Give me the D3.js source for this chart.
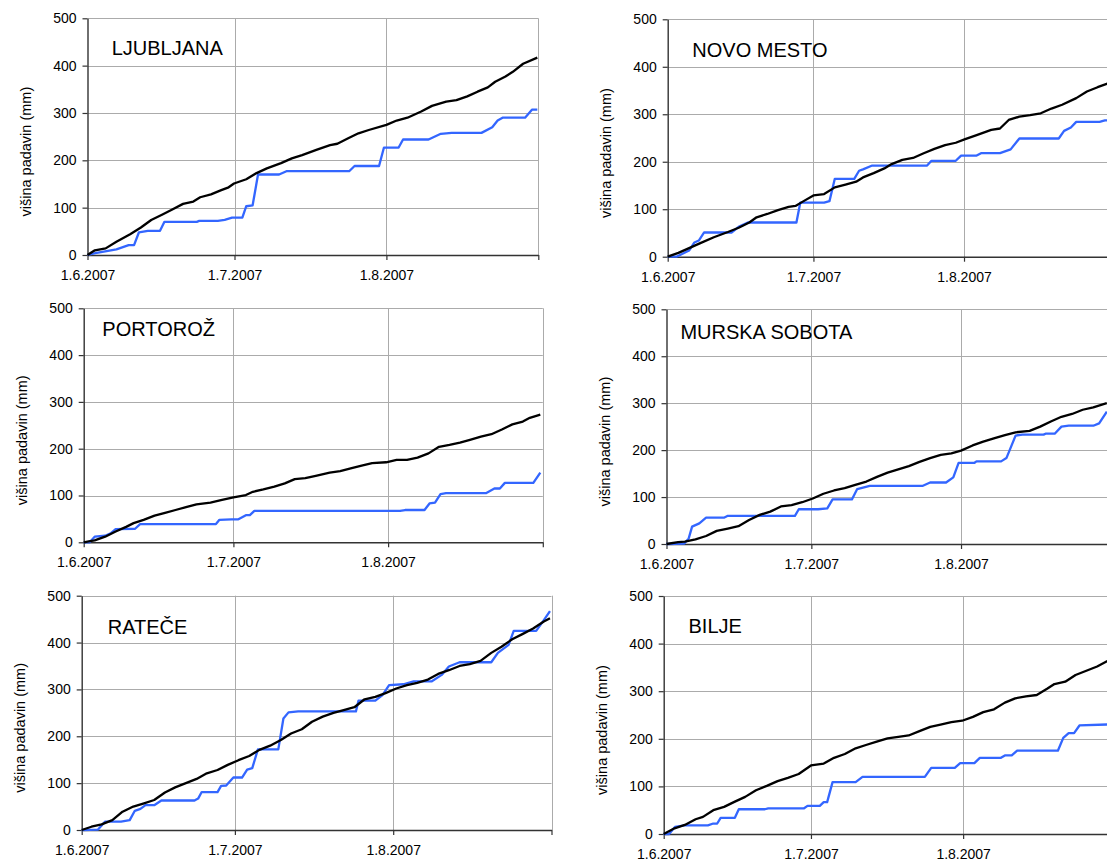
<!DOCTYPE html>
<html>
<head>
<meta charset="utf-8">
<script src="https://cdn.jsdelivr.net/npm/d3@7"></script>
<style>
  html, body { margin: 0; padding: 0; background: #fff; }
  svg { display: block; }
  text { font-family: "Liberation Sans", Arial, sans-serif; fill: #000; }
</style>
</head>
<body>
<svg id="chart" width="1107" height="861"></svg>
<script>
// ---- data: [days since 1.6.2007, cumulative precipitation mm] ----
const stations = ["LJUBLJANA", "NOVO MESTO", "PORTOROŽ", "MURSKA SOBOTA", "RATEČE", "BILJE"];
const yTicks = [0, 100, 200, 300, 400, 500];
const xTickDates = ["2007-06-01", "2007-07-01", "2007-08-01", "2007-09-01"];
const yTitle = "višina padavin (mm)";

const ljubljanaNormal = [[0,0],[1.5,10],[3.7,14],[5.9,28],[8.7,44],[10.9,58],[13,74],[15.2,85],[17.3,96],[19.5,108],[21.6,113],[23,122],[25.2,128],[27.3,137],[28.8,143],[29.9,151],[32.4,160],[34.5,173],[36.6,183],[39.5,194],[41.7,204],[43.8,211],[46.7,222],[49.5,232],[51,235],[53.1,246],[55.3,257],[57.4,264],[61,275],[63.1,284],[65.3,290],[68.1,303],[70.3,315],[73.2,324],[75.3,327],[77.5,335],[79.6,345],[81.7,354],[83.2,366],[85.3,377],[86.8,387],[88.9,404],[91.8,417]];
const ljubljana2007 = [[0,0],[1.6,4],[5.9,12],[8.4,21],[9.5,21],[10.5,48],[12.3,51],[14.8,51],[15.7,70],[22.3,70],[22.8,72],[26.6,72],[28,74],[29.5,79],[31.6,79],[32.4,103],[33.7,105],[34.8,170],[39.1,170],[40.6,177],[53.4,177],[54.5,188],[59.5,188],[60.5,227],[63.5,227],[64.4,244],[69.6,244],[72.1,256],[74.3,258],[80.4,258],[82.6,270],[83.7,284],[84.7,290],[89.3,290],[90.7,307],[91.8,307]];

const novoMestoNormal = [[0,0],[2.2,8],[4.4,18],[6.6,28],[9.5,41],[12.4,52],[14.6,61],[16.8,72],[18.3,83],[20.5,90],[22.7,98],[24.9,105],[26.3,107],[27.8,116],[30,129],[32.2,132],[34.4,146],[36.6,152],[38.8,158],[40.2,167],[42.4,176],[44.6,186],[46.1,195],[48.3,204],[50.5,208],[52.7,218],[54.9,227],[57.1,235],[59.3,240],[61.1,247],[63.6,256],[66.6,267],[68.4,270],[70.2,288],[72.4,295],[74.6,298],[76.8,302],[79,312],[81.2,320],[84.1,334],[86.3,348],[88.5,357],[90.6,365],[91,367]];
const novoMesto2007 = [[0,0],[1.8,0],[4.4,13],[5.5,30],[6.4,34],[7.5,51],[13.2,51],[14.6,63],[16.5,72],[26.5,72],[27.3,114],[32.2,114],[33.3,117],[34.4,164],[38.4,164],[39.4,181],[40.2,184],[42.1,192],[53.4,192],[54.3,202],[59.3,202],[60.4,213],[63.6,213],[64.5,218],[68.4,218],[70.6,226],[72.4,249],[80.5,249],[81.6,265],[83,272],[84.1,284],[88.9,284],[90,287],[91,287]];

const portorozNormal = [[0,0],[1,2],[2.2,4],[4.3,12],[6.4,23],[8.5,33],[10,41],[12,48],[14.2,57],[16.3,63],[18.4,69],[20.5,75],[22.6,81],[25.4,85],[27.5,90],[30,96],[32.5,101],[33.9,108],[36,113],[38.2,119],[40.3,126],[42.3,135],[44.4,137],[46.5,142],[49.3,149],[51.4,152],[53.5,158],[55.7,164],[57.8,169],[60.6,171],[62.7,176],[64.8,176],[66.9,181],[69.1,190],[71.2,204],[73.3,208],[75.4,213],[77.4,219],[79.6,226],[81.7,231],[83.8,241],[85.9,252],[88,258],[89.4,266],[91.5,273]];
const portoroz2007 = [[0,0],[1.2,0],[2.2,12],[4.3,14],[5.4,19],[6.4,28],[10.3,29],[11.3,39],[26.5,39],[27.2,48],[29.6,49],[31,49],[32.5,58],[33.3,58],[34.2,67],[63.4,67],[64.4,69],[68.3,69],[69.3,83],[70.4,85],[71.5,103],[72.6,105],[80.6,105],[82.3,115],[83.4,115],[84.4,127],[90.1,127],[91.5,149]];

const murskaSobotaNormal = [[0,0],[2.4,4],[3.8,5],[6,10],[8.2,17],[10.4,28],[12.7,33],[14.9,38],[17.1,51],[19.3,62],[21.5,69],[23.7,80],[25.9,83],[28.1,89],[30.3,97],[32.5,107],[34.7,114],[36.9,119],[39.1,126],[41.4,133],[43.6,143],[45.8,152],[48,159],[50.2,166],[52.4,175],[54.6,183],[56.8,190],[59,193],[61,199],[63.4,210],[65.6,218],[67.8,225],[70.1,232],[72.3,238],[75.2,241],[77.4,250],[79.6,261],[81.8,271],[84,277],[86.2,286],[88.4,291],[91.2,300]];
const murskaSobota2007 = [[0,0],[3.7,1],[4.6,12],[5.3,37],[6.8,44],[8.2,56],[11.9,56],[12.7,60],[26.6,60],[27.4,74],[31.4,74],[33.3,76],[34.4,95],[38.4,95],[39.5,117],[42.1,124],[53.1,124],[54.6,131],[57.9,131],[59.4,142],[60.5,173],[63.8,173],[64.2,176],[69.3,176],[70.4,183],[72.3,231],[73.7,233],[78.1,233],[78.5,235],[80.4,235],[81.8,250],[83.3,252],[88.4,252],[89.6,257],[91.2,282]];

const rateceNormal = [[0,0],[1.9,7],[3.9,12],[6,21],[8,39],[10.1,50],[12.2,57],[14.2,64],[16.3,80],[18.3,91],[20.4,100],[22.5,109],[24.5,121],[26.6,128],[28.6,139],[30.7,149],[32.8,158],[34.8,171],[36.9,180],[39,192],[41,206],[43.1,215],[45.1,231],[47.2,242],[49.3,250],[51.3,256],[53.4,262],[55.4,279],[57.5,284],[59.5,292],[61.6,302],[63.7,309],[65.7,314],[67.8,321],[69.8,333],[71.9,341],[74,350],[76,354],[78.1,361],[80.2,378],[82.2,391],[84.3,407],[86.3,418],[88.4,430],[90.5,445],[91.7,452]];
const ratece2007 = [[0,0],[3.2,1],[4.6,18],[7.7,18],[9.4,21],[10.4,41],[11.5,45],[12.5,53],[14.2,53],[15.6,63],[22.1,63],[22.8,67],[23.5,81],[26.6,81],[27.3,94],[28.3,95],[29.7,112],[31.4,112],[32.4,129],[33.4,132],[34.5,172],[38.5,172],[39.5,238],[40.5,251],[42.4,253],[53.7,253],[54.2,276],[57.5,276],[58.9,288],[60.2,309],[63,311],[65,317],[68.5,317],[70.5,331],[71.9,349],[74,358],[80.2,358],[81.5,378],[83.6,395],[84.6,425],[89,425],[90.5,448],[91.7,467]];

const biljeNormal = [[0,0],[2.2,12],[4.3,19],[6.5,31],[8,36],[10.1,50],[12.3,57],[14.5,68],[16.6,78],[18.8,92],[21,101],[23.2,111],[25.3,118],[27.5,126],[30,144],[32.6,148],[34.7,160],[36.9,168],[39.1,180],[41.2,187],[43.4,194],[45.6,201],[47.8,204],[49.9,207],[52.1,216],[54.3,225],[56.4,230],[58.6,235],[60.8,238],[63,246],[65.1,256],[67.3,262],[69.5,276],[71.6,285],[73.8,289],[76,292],[78.1,305],[79.6,315],[81.8,320],[83.9,334],[86.1,343],[88.3,352],[90.3,363],[91,366]];
const bilje2007 = [[0,0],[1.1,0],[2.3,15],[4.3,18],[9,18],[10.1,22],[10.9,22],[11.6,34],[14.5,34],[15.3,52],[20.6,52],[21.3,54],[28.6,54],[29.3,59],[31.8,59],[32.6,67],[33.3,67],[34.4,109],[39.1,109],[40.5,120],[53.2,120],[54.5,139],[59.3,139],[60.4,149],[63.3,149],[64.4,160],[68.7,160],[69.5,165],[70.9,165],[72,175],[80.3,175],[81.4,202],[82.5,212],[83.6,212],[84.7,228],[90.3,230],[91,230]];

const normalSeries = [ljubljanaNormal, novoMestoNormal, portorozNormal, murskaSobotaNormal, rateceNormal, biljeNormal];
const series2007 = [ljubljana2007, novoMesto2007, portoroz2007, murskaSobota2007, ratece2007, bilje2007];

// ---- layout (pixels) ----
const layout = [
  {x0: 87.5,  x1: 538.3,  top: 18.3,  zero: 255,   tx: 111.7, ty: 55},
  {x0: 667.7, x1: 1114.6, top: 19.3,  zero: 256.7, tx: 692.3, ty: 56.7},
  {x0: 83.7,  x1: 542.8,  top: 308.3, zero: 542.3, tx: 102.3, ty: 336},
  {x0: 666.5, x1: 1110.7, top: 309.3, zero: 544,   tx: 680.4, ty: 339},
  {x0: 81.7,  x1: 551.5,  top: 595.7, zero: 830,   tx: 107.7, ty: 634},
  {x0: 663.7, x1: 1115.3, top: 596,   zero: 834,   tx: 688.5, ty: 633.3}
];

const parse = d3.timeParse("%Y-%m-%d");
const tickDates = xTickDates.map(parse);
const start = tickDates[0];
const dayToDate = d => new Date(start.getTime() + d * 86400000);
const fmt = d3.timeFormat("%-d.%-m.%Y");

const svg = d3.select("#chart");
svg.append("rect").attr("width", 1107).attr("height", 861).attr("fill", "#fff");

const GRID = "#ababab", AXIS = "#333", BLUE = "#3366ff", BLACK = "#000";

stations.forEach((name, i) => {
  const L = layout[i];
  const x = d3.scaleTime().domain([tickDates[0], tickDates[tickDates.length - 1]]).range([L.x0, L.x1]);
  const y = d3.scaleLinear().domain([0, 500]).range([L.zero, L.top]);
  const g = svg.append("g");

  // gridlines
  g.selectAll(".hg").data(yTicks.slice(1)).join("line")
    .attr("x1", L.x0).attr("x2", L.x1)
    .attr("y1", d => Math.round(y(d)) + 0.5).attr("y2", d => Math.round(y(d)) + 0.5)
    .attr("stroke", GRID).attr("stroke-width", 1);
  g.selectAll(".vg").data(tickDates.slice(1)).join("line")
    .attr("x1", d => Math.round(x(d)) + 0.5).attr("x2", d => Math.round(x(d)) + 0.5)
    .attr("y1", L.top).attr("y2", L.zero)
    .attr("stroke", GRID).attr("stroke-width", 1);

  // axes
  const yAxis = d3.axisLeft(y).tickValues(yTicks).tickSize(5).tickPadding(6).tickSizeOuter(0);
  const ya = g.append("g").attr("transform", `translate(${L.x0},0)`).call(yAxis);
  const xAxis = d3.axisBottom(x).tickValues(tickDates).tickSize(5).tickPadding(10).tickSizeOuter(0)
    .tickFormat((d, k) => k < tickDates.length - 1 ? fmt(d) : "");
  const xa = g.append("g").attr("transform", `translate(0,${L.zero})`).call(xAxis);
  [ya, xa].forEach(a => {
    a.select(".domain").attr("stroke", AXIS).attr("stroke-width", 1.4);
    a.selectAll(".tick line").attr("stroke", AXIS).attr("stroke-width", 1.2);
    a.selectAll("text").attr("font-size", 14).attr("fill", "#000")
      .attr("font-family", "'Liberation Sans', Arial, sans-serif");
  });

  // series
  const line = d3.line().x(d => x(dayToDate(d[0]))).y(d => y(d[1]));
  g.append("path").datum(series2007[i]).attr("d", line)
    .attr("fill", "none").attr("stroke", BLUE).attr("stroke-width", 2.3).attr("stroke-linejoin", "round");
  g.append("path").datum(normalSeries[i]).attr("d", line)
    .attr("fill", "none").attr("stroke", BLACK).attr("stroke-width", 2.3).attr("stroke-linejoin", "round");

  // station name
  g.append("text").attr("x", L.tx).attr("y", L.ty).attr("font-size", 20).text(name);

  // y title
  const cx = L.x0 - 62, cy = (L.top + L.zero) / 2 + 15;
  g.append("text").attr("transform", `translate(${cx},${cy}) rotate(-90)`)
    .attr("text-anchor", "middle").attr("dy", "0.35em").attr("font-size", 14.5).text(yTitle);
});
</script>
</body>
</html>
